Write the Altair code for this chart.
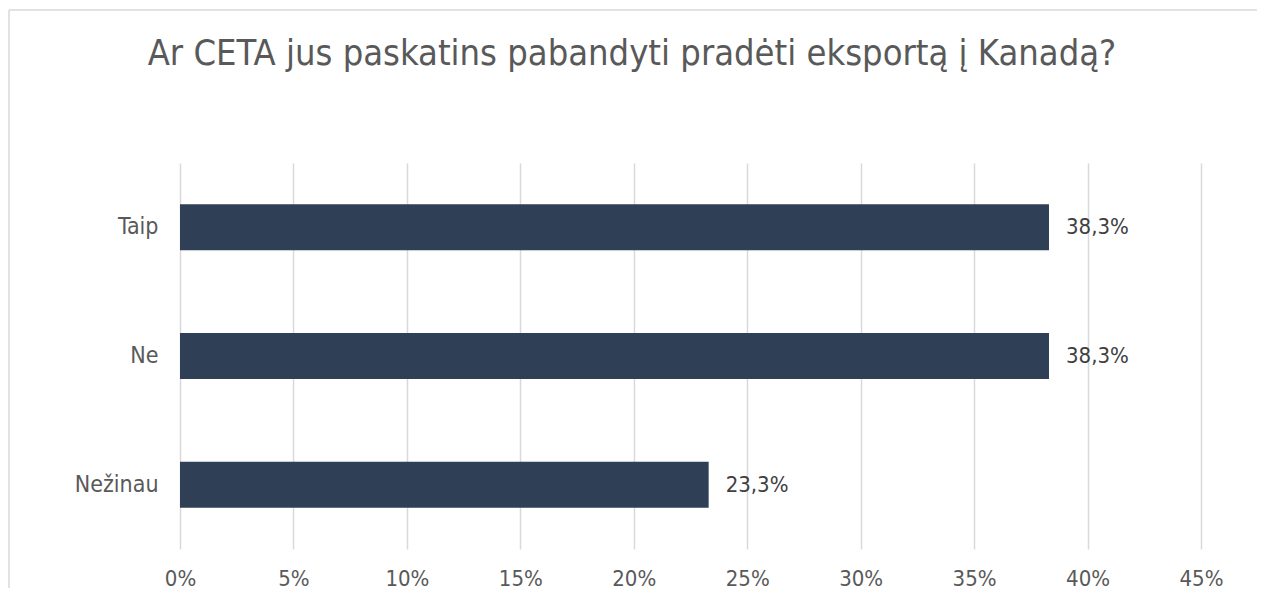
import altair as alt
import pandas as pd

categories = ["Taip", "Ne", "Nežinau"]
values = [38.3, 38.3, 23.3]
value_labels = ["38,3%", "38,3%", "23,3%"]
title_text = "Ar CETA jus paskatins pabandyti pradėti eksportą į Kanadą?"

FONT = "DejaVu Sans Condensed, DejaVu Sans, sans-serif"

df = pd.DataFrame({"cat": categories, "val": values, "lbl": value_labels})

x_enc = alt.X("val:Q", scale=alt.Scale(domain=[0, 45], nice=False, zero=True),
              axis=alt.Axis(values=list(range(0, 50, 5)), labelExpr="datum.value + '%'",
                            title=None, domain=False, ticks=False, grid=True,
                            gridColor="#D9D9D9", gridWidth=1.5, labelFlush=False,
                            labelFont=FONT, labelFontSize=22, labelColor="#595959",
                            labelPadding=36, labelBaseline="alphabetic"))
y_enc = alt.Y("cat:N", sort=categories,
              scale=alt.Scale(paddingInner=0.643, paddingOuter=0.3215),
              axis=alt.Axis(title=None, domain=False, ticks=False, grid=False,
                            labelFont=FONT, labelFontSize=23, labelColor="#595959",
                            labelPadding=22))

bars = alt.Chart(df).mark_bar(color="#2E3F56").encode(x=x_enc, y=y_enc)
labels = alt.Chart(df).mark_text(align="left", baseline="middle", dx=17,
                                 font=FONT, fontSize=22, color="#404040").encode(
    x="val:Q", y=alt.Y("cat:N", sort=categories), text="lbl:N")

title = alt.Chart(pd.DataFrame({"t": [title_text]})).mark_text(
    align="center", baseline="alphabetic", font=FONT, fontSize=36, color="#595959"
).encode(x=alt.value(452), y=alt.value(-98), text="t:N")

border_top = alt.Chart(pd.DataFrame({"a": [0]})).mark_rule(color="#D9D9D9", strokeWidth=1.5).encode(
    x=alt.value(-171), x2=alt.value(1100), y=alt.value(-153))
border_left = alt.Chart(pd.DataFrame({"a": [0]})).mark_rule(color="#D9D9D9", strokeWidth=1.5).encode(
    x=alt.value(-171), y=alt.value(-153), y2=alt.value(500))

chart = alt.layer(bars, labels, title, border_top, border_left).properties(
    width=1021, height=386,
    autosize=alt.AutoSizeParams(type="none"),
    padding={"left": 172, "top": 155, "right": 56, "bottom": 39},
).configure(background="white").configure_view(strokeWidth=0, stroke=None)

chart.save("out.html", embed_options={"renderer": "svg", "actions": False})
